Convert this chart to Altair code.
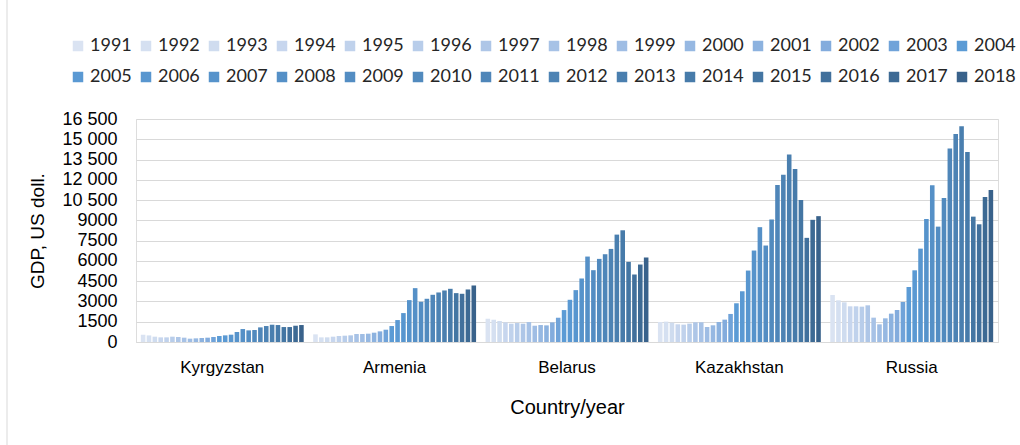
import altair as alt
import pandas as pd

# GDP per capita, current US dollars, 1991-2018
countries = ["Kyrgyzstan", "Armenia", "Belarus", "Kazakhstan", "Russia"]
years = [str(y) for y in range(1991, 2019)]

kyrgyzstan = [537, 488, 394, 344, 344, 394, 369, 320, 246, 270, 295, 320, 369, 443,
              492, 541, 738, 959, 861, 886, 1082, 1181, 1279, 1255, 1107, 1107, 1205, 1255]
armenia = [566, 344, 344, 394, 443, 467, 492, 590, 590, 615, 689, 787, 910, 1181,
           1624, 2140, 3100, 3985, 2977, 3198, 3493, 3665, 3813, 3936, 3616, 3567, 3887, 4182]
belarus = [1722, 1648, 1550, 1451, 1353, 1402, 1353, 1476, 1205, 1255, 1230, 1451, 1796, 2362,
           3124, 3838, 4699, 6322, 5314, 6150, 6494, 6888, 7946, 8266, 5929, 4994, 5732, 6248]
kazakhstan = [1482, 1507, 1433, 1309, 1284, 1359, 1457, 1457, 1112, 1235, 1482, 1655, 2075, 2865,
              3754, 5286, 6768, 8497, 7138, 9065, 11609, 12375, 13881, 12795, 10498, 7706, 9040, 9312]
russia = [3479, 3084, 2936, 2640, 2640, 2615, 2714, 1801, 1307, 1752, 2097, 2368, 2960, 4071,
          5304, 6908, 9103, 11595, 8536, 10657, 14309, 15394, 15962, 14062, 9276, 8709, 10731, 11250]

series = [kyrgyzstan, armenia, belarus, kazakhstan, russia]

# one shade per year, light to dark blue
year_colors = [
    "#dae3f2", "#d5e0f1", "#cfdcef", "#c7d6ee", "#c0d2ec", "#b8cdea", "#aec6e7",
    "#a7c2e6", "#9fbde4", "#96b8e2", "#8cb2df", "#83acdd", "#70a3d9", "#5b9bd5",
    "#5a99d3", "#5896cf", "#5693cb", "#5590c7", "#538dc3", "#518abe", "#4f86b9",
    "#4d83b4", "#4a7faf", "#477baa", "#4476a3", "#41709c", "#3d6a94", "#39628b",
]

rows = []
for country, values in zip(countries, series):
    for year, v in zip(years, values):
        rows.append({"country": country, "year": year, "gdp": v})
df = pd.DataFrame(rows)

FONT = "Lato"
TEXT = "#262626"
GRID = "#d9d9d9"

y_label = ("datum.value >= 10000 ? replace(format(datum.value, ','), ',', ' ') "
           ": format(datum.value, 'd')")

bars = alt.Chart(df).mark_bar().encode(
    x=alt.X("country:N", sort=countries,
            scale=alt.Scale(paddingInner=0.055, paddingOuter=0.028),
            axis=alt.Axis(title="Country/year", labelAngle=0, ticks=False,
                          domainColor=GRID, labelPadding=17, labelFontSize=17,
                          titlePadding=22, titleFontSize=20, titleFontWeight="normal")),
    xOffset=alt.XOffset("year:N", sort=years, scale=alt.Scale(paddingInner=0.22)),
    y=alt.Y("gdp:Q",
            scale=alt.Scale(domain=[0, 16500], nice=False),
            axis=alt.Axis(title="GDP, US doll.", values=list(range(0, 16501, 1500)),
                          labelExpr=y_label, ticks=False, domain=False,
                          labelPadding=19, labelFontSize=18, gridColor=GRID,
                          titlePadding=14, titleFontSize=19, titleFontWeight="normal")),
    color=alt.Color("year:N", sort=years,
                    scale=alt.Scale(domain=years, range=year_colors),
                    legend=alt.Legend(title=None, orient="none", legendX=-67, legendY=-82,
                                      direction="horizontal", columns=14,
                                      symbolType="square", symbolSize=110,
                                      symbolStrokeWidth=0, labelFontSize=18,
                                      labelOffset=3, columnPadding=5, rowPadding=13,
                                      padding=0, labelColor=TEXT, labelFont=FONT)),
)

# thin frame line on the left edge of the chart area
frame = alt.Chart(alt.Data(values=[{}])).mark_rule(color=GRID, strokeWidth=1).encode(
    x=alt.value(-129), y=alt.value(-119), y2=alt.value(326)
)

chart = alt.layer(bars, frame).properties(
    width=862, height=223,
    padding={"left": 136, "top": 119, "right": 22, "bottom": 103},
    autosize=alt.AutoSizeParams(type="none"),
).configure_view(stroke=None).configure_axis(
    labelFont=FONT, titleFont=FONT, labelColor=TEXT, titleColor=TEXT,
).configure(background="white")

chart.save("out.html", embed_options={"renderer": "svg", "actions": False})
